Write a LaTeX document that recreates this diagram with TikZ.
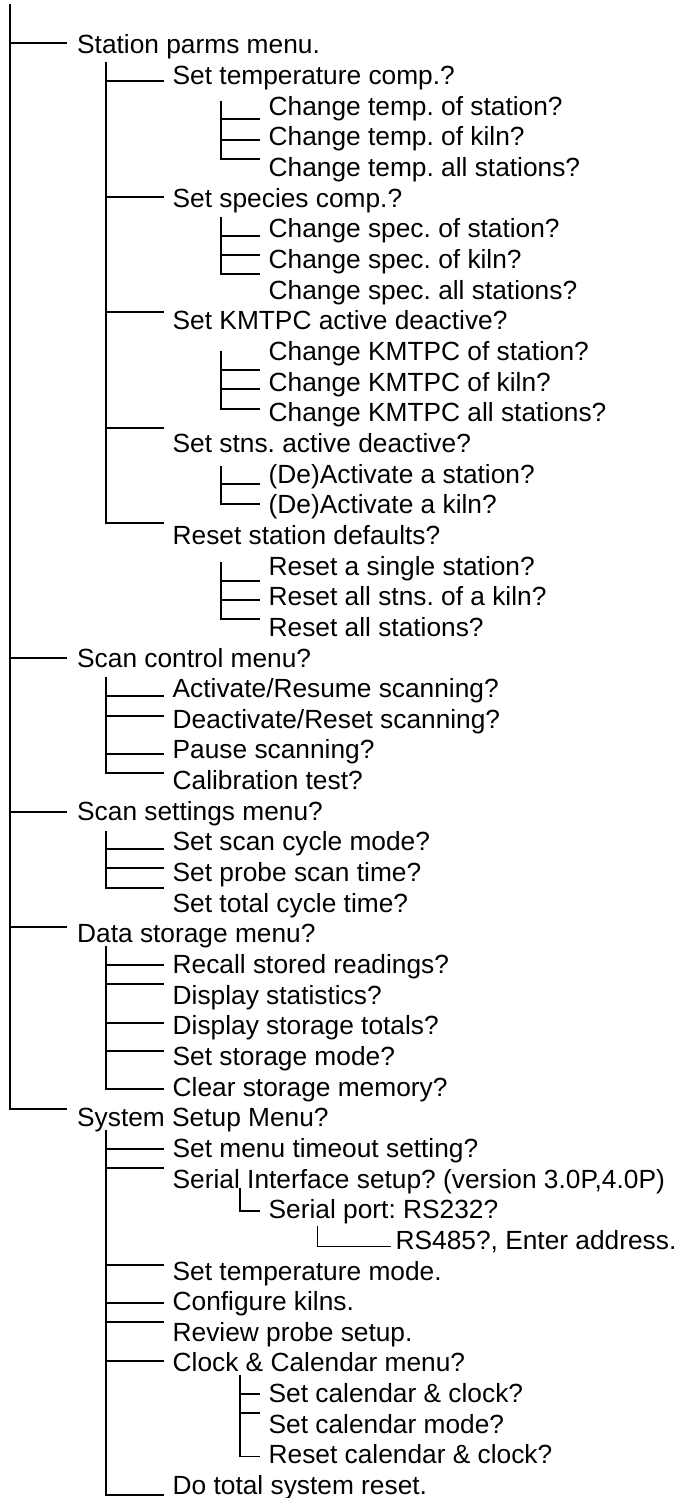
\documentclass[tikz,border=0pt]{standalone}
\usepackage{fontspec}
\setmainfont{Liberation Sans}
\frenchspacing
\begin{document}
\begin{tikzpicture}[x=1pt,y=-1pt,
  tree/.style={line width=2pt, line join=miter},
  thin/.style={line width=1.4pt, line join=miter},
  lbl/.style={anchor=base west, inner sep=0pt, font=\fontsize{26.3}{30}\selectfont\frenchspacing}]
\useasboundingbox (0,0) rectangle (687,1498);
% ---------- texts ----------
\node[lbl] (r1) at (77,54) {Station parms menu.};
\node[lbl] (r2) at (172.5,84.65) {Set temperature comp.?};
\node[lbl] (r3) at (268.5,115.3) {Change temp. of station?};
\node[lbl] (r4) at (268.5,145.95) {Change temp. of kiln?};
\node[lbl] (r5) at (268.5,176.6) {Change temp. all stations?};
\node[lbl] (r6) at (172.5,207.25) {Set species comp.?};
\node[lbl] (r7) at (268.5,237.9) {Change spec. of station?};
\node[lbl] (r8) at (268.5,268.55) {Change spec. of kiln?};
\node[lbl] (r9) at (268.5,299.2) {Change spec. all stations?};
\node[lbl] (r10) at (172.5,329.85) {Set KMTPC active deactive?};
\node[lbl] (r11) at (268.5,360.5) {Change KMTPC of station?};
\node[lbl] (r12) at (268.5,391.15) {Change KMTPC of kiln?};
\node[lbl] (r13) at (268.5,421.8) {Change KMTPC all stations?};
\node[lbl] (r14) at (172.5,452.45) {Set stns. active deactive?};
\node[lbl] (r15) at (268.5,483.1) {(De)Activate a station?};
\node[lbl] (r16) at (268.5,513.75) {(De)Activate a kiln?};
\node[lbl] (r17) at (172.5,544.4) {Reset station defaults?};
\node[lbl] (r18) at (268.5,575.05) {Reset a single station?};
\node[lbl] (r19) at (268.5,605.7) {Reset all stns. of a kiln?};
\node[lbl] (r20) at (268.5,636.35) {Reset all stations?};
\node[lbl] (r21) at (77,667) {Scan control menu?};
\node[lbl] (r22) at (172.5,697.65) {Activate/Resume scanning?};
\node[lbl] (r23) at (172.5,728.3) {Deactivate/Reset scanning?};
\node[lbl] (r24) at (172.5,758.95) {Pause scanning?};
\node[lbl] (r25) at (172.5,789.6) {Calibration test?};
\node[lbl] (r26) at (77,820.25) {Scan settings menu?};
\node[lbl] (r27) at (172.5,850.9) {Set scan cycle mode?};
\node[lbl] (r28) at (172.5,881.55) {Set probe scan time?};
\node[lbl] (r29) at (172.5,912.2) {Set total cycle time?};
\node[lbl] (r30) at (77,942.85) {Data storage menu?};
\node[lbl] (r31) at (172.5,973.5) {Recall stored readings?};
\node[lbl] (r32) at (172.5,1004.15) {Display statistics?};
\node[lbl] (r33) at (172.5,1034.8) {Display storage totals?};
\node[lbl] (r34) at (172.5,1065.45) {Set storage mode?};
\node[lbl] (r35) at (172.5,1096.1) {Clear storage memory?};
\node[lbl] (r36) at (77,1126.75) {System Setup Menu?};
\node[lbl] (r37) at (172.5,1157.4) {Set menu timeout setting?};
\node[lbl] (r38) at (172.5,1188.05) {Serial Interface setup? (version 3.0P,4.0P)};
\node[lbl] (r39) at (268.5,1218.7) {Serial port: RS232?};
\node[lbl] (r40) at (395.5,1249.35) {RS485?, Enter address.};
\node[lbl] (r41) at (172.5,1280) {Set temperature mode.};
\node[lbl] (r42) at (172.5,1310.65) {Configure kilns.};
\node[lbl] (r43) at (172.5,1341.3) {Review probe setup.};
\node[lbl] (r44) at (172.5,1371.95) {Clock \& Calendar menu?};
\node[lbl] (r45) at (268.5,1402.6) {Set calendar \& clock?};
\node[lbl] (r46) at (268.5,1433.25) {Set calendar mode?};
\node[lbl] (r47) at (268.5,1463.9) {Reset calendar \& clock?};
\node[lbl] (r48) at (172.5,1494.55) {Do total system reset.};
% ---------- junction coordinates ----------
% main level
\coordinate (m0) at (9.5,4);
\coordinate (m1) at (67,42.7);
\coordinate (m2) at (67,657.7);
\coordinate (m3) at (67,812);
\coordinate (m4) at (67,926.7);
\coordinate (m5) at (67,1109.3);
% station parms group
\coordinate (a0) at (105.7,62.3);
\coordinate (a1) at (164,81);
\coordinate (a2) at (164,196.7);
\coordinate (a3) at (164,312.3);
\coordinate (a4) at (164,427.7);
\coordinate (a5) at (164,523.3);
% temp group
\coordinate (t0) at (221,100.7);
\coordinate (t1) at (260,119.2);
\coordinate (t2) at (260,139.6);
\coordinate (t3) at (260,159.2);
% species group
\coordinate (s0) at (221,216.7);
\coordinate (s1) at (260,236);
\coordinate (s2) at (260,255.3);
\coordinate (s3) at (260,274.3);
% kmtpc group
\coordinate (k0) at (221,350.5);
\coordinate (k1) at (260,370);
\coordinate (k2) at (260,389.3);
\coordinate (k3) at (260,408.7);
% (de)activate group
\coordinate (d0) at (221,465.7);
\coordinate (d1) at (260,484.3);
\coordinate (d2) at (260,504);
% reset group
\coordinate (e0) at (221,561.7);
\coordinate (e1) at (260,581);
\coordinate (e2) at (260,600.3);
\coordinate (e3) at (260,619.3);
% scan control group
\coordinate (c0) at (105.7,677);
\coordinate (c1) at (164,696.3);
\coordinate (c2) at (164,715.7);
\coordinate (c3) at (164,754.2);
\coordinate (c4) at (164,773.3);
% scan settings group
\coordinate (g0) at (105.7,831);
\coordinate (g1) at (164,849.3);
\coordinate (g2) at (164,868.3);
\coordinate (g3) at (164,887.7);
% data storage group
\coordinate (h0) at (105.7,946.3);
\coordinate (h1) at (164,965);
\coordinate (h2) at (164,984.2);
\coordinate (h3) at (164,1022.7);
\coordinate (h4) at (164,1050.5);
\coordinate (h5) at (164,1089.3);
% system setup group
\coordinate (y0) at (105.7,1130.3);
\coordinate (y1) at (164,1149);
\coordinate (y2) at (164,1168);
\coordinate (y3) at (164,1264.7);
\coordinate (y4) at (164,1303);
\coordinate (y5) at (164,1322.3);
\coordinate (y6) at (164,1360.7);
\coordinate (y7) at (164,1494.7);
% serial port
\coordinate (p0) at (240,1188);
\coordinate (p1) at (259.5,1211);
% rs485
\coordinate (q0) at (317.5,1226);
\coordinate (q1) at (390.7,1246.5);
% clock group
\coordinate (k20) at (240,1375);
\coordinate (k21) at (259.5,1394);
\coordinate (k22) at (259.5,1413);
\coordinate (k23) at (259.5,1456.5);
% ---------- connectors ----------
\draw[tree] (m0) -- (m0 |- m5) -- (m5);
\foreach \c in {m1,m2,m3,m4} \draw[tree] (m0 |- \c) -- (\c);
\draw[tree] (a0) -- (a0 |- a5) -- (a5);
\foreach \c in {a1,a2,a3,a4} \draw[tree] (a0 |- \c) -- (\c);
\draw[tree] (t0) -- (t0 |- t3) -- (t3);
\foreach \c in {t1,t2} \draw[tree] (t0 |- \c) -- (\c);
\draw[tree] (s0) -- (s0 |- s3) -- (s3);
\foreach \c in {s1,s2} \draw[tree] (s0 |- \c) -- (\c);
\draw[tree] (k0) -- (k0 |- k3) -- (k3);
\foreach \c in {k1,k2} \draw[tree] (k0 |- \c) -- (\c);
\draw[tree] (d0) -- (d0 |- d2) -- (d2);
\draw[tree] (d0 |- d1) -- (d1);
\draw[tree] (e0) -- (e0 |- e3) -- (e3);
\foreach \c in {e1,e2} \draw[tree] (e0 |- \c) -- (\c);
\draw[tree] (c0) -- (c0 |- c4) -- (c4);
\foreach \c in {c1,c2,c3} \draw[tree] (c0 |- \c) -- (\c);
\draw[tree] (g0) -- (g0 |- g3) -- (g3);
\foreach \c in {g1,g2} \draw[tree] (g0 |- \c) -- (\c);
\draw[tree] (h0) -- (h0 |- h5) -- (h5);
\foreach \c in {h1,h2,h3,h4} \draw[tree] (h0 |- \c) -- (\c);
\draw[tree] (y0) -- (y0 |- y7) -- (y7);
\foreach \c in {y1,y2,y3,y4,y5,y6} \draw[tree] (y0 |- \c) -- (\c);
\draw[thin] (p0) -- (p0 |- p1) -- (p1);
\draw[thin] (q0) -- (q0 |- q1) -- (q1);
\draw[thin] (k20) -- (k20 |- k23) -- (k23);
\foreach \c in {k21,k22} \draw[thin] (k20 |- \c) -- (\c);
\end{tikzpicture}
\end{document}
